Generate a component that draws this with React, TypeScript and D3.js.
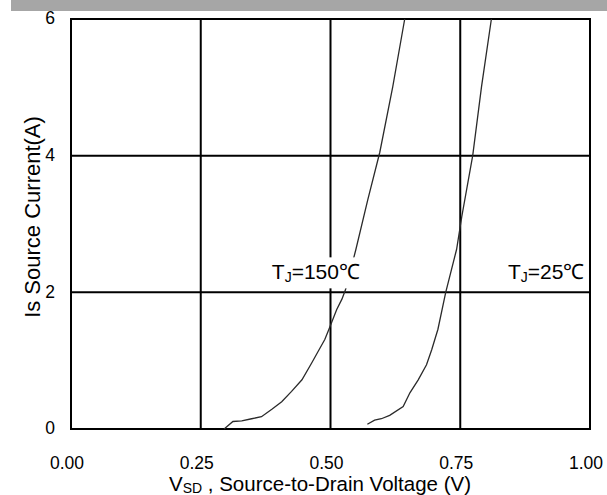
import React, { useEffect, useRef } from 'react';
import * as d3 from 'd3';

const vTicks = [0, 0.25, 0.5, 0.75, 1.0];
const iTicks = [0, 2, 4, 6];

// T_J = 150°C curve (V, A)
const v150 = [0.295, 0.312, 0.329, 0.348, 0.367, 0.387, 0.406, 0.425, 0.445, 0.464, 0.475, 0.489, 0.497, 0.512, 0.522, 0.529, 0.549, 0.572, 0.595, 0.620, 0.643];
const i150 = [0, 0.11, 0.12, 0.15, 0.18, 0.29, 0.40, 0.55, 0.72, 0.97, 1.12, 1.31, 1.46, 1.75, 1.90, 2.04, 2.63, 3.36, 4.05, 5.01, 6.0];

// T_J = 25°C curve
const v25 = [0.571, 0.585, 0.598, 0.614, 0.640, 0.653, 0.669, 0.685, 0.695, 0.707, 0.722, 0.743, 0.753, 0.774, 0.791, 0.810];
const i25 = [0.07, 0.13, 0.15, 0.20, 0.33, 0.53, 0.72, 0.94, 1.16, 1.46, 2.0, 2.63, 3.11, 4.0, 5.01, 6.0];

// temperature labels
const labelTemps = ['150', '25'];
const labelV = [0.387, 0.842];
const labelI = [2.19, 2.19];

const FONT = '"Liberation Sans", Arial, sans-serif';

export default function App() {
  const svgRef = useRef<SVGSVGElement>(null);

  useEffect(() => {
    if (!svgRef.current) return;
    const svg = d3.select(svgRef.current);
    svg.selectAll('*').remove();

    const margin = { top: 19, left: 71 };
    const width = 519;
    const height = 410;

    // grey band across the top
    svg.append('rect')
      .attr('x', 11).attr('y', 0)
      .attr('width', 596).attr('height', 11)
      .attr('fill', '#a6a6a6');

    const g = svg.append('g')
      .attr('transform', `translate(${margin.left},${margin.top})`);

    const x = d3.scaleLinear().domain([0, 1]).range([0, width]);
    const y = d3.scaleLinear().domain([0, 6]).range([height, 0]);

    // grid
    g.selectAll('.gx').data(vTicks).enter().append('line')
      .attr('x1', d => x(d)).attr('x2', d => x(d))
      .attr('y1', 0).attr('y2', height)
      .attr('stroke', '#000').attr('stroke-width', 2);

    g.selectAll('.gy').data(iTicks).enter().append('line')
      .attr('x1', 0).attr('x2', width)
      .attr('y1', d => y(d)).attr('y2', d => y(d))
      .attr('stroke', '#000').attr('stroke-width', 2);

    g.append('rect')
      .attr('width', width).attr('height', height)
      .attr('fill', 'none').attr('stroke', '#000').attr('stroke-width', 2);

    // curves
    const line = d3.line<[number, number]>()
      .x(d => x(d[0]))
      .y(d => y(d[1]));

    const curves = [
      v150.map((v, i) => [v, i150[i]] as [number, number]),
      v25.map((v, i) => [v, i25[i]] as [number, number]),
    ];

    g.selectAll('.curve').data(curves).enter().append('path')
      .attr('d', d => line(d))
      .attr('fill', 'none')
      .attr('stroke', '#2a2a2a')
      .attr('stroke-width', 1.3);

    // labels with white boxes
    labelTemps.forEach((t, i) => {
      const lg = g.append('g');
      const box = lg.append('rect').attr('fill', '#fff');
      const txt = lg.append('text')
        .attr('x', x(labelV[i]))
        .attr('y', y(labelI[i]))
        .attr('font-family', FONT)
        .attr('font-size', 21)
        .attr('fill', '#000');
      txt.append('tspan').text('T');
      txt.append('tspan').attr('font-size', 14).attr('dy', 3).text('J');
      txt.append('tspan').attr('dy', -3).text(`=${t}℃`);
      const bb = (txt.node() as SVGTextElement).getBBox();
      box.attr('x', bb.x - 7).attr('y', bb.y - 3)
        .attr('width', bb.width + 11).attr('height', bb.height + 6);
    });

    // y tick labels
    g.selectAll('.yl').data(iTicks).enter().append('text')
      .attr('x', -16)
      .attr('y', d => y(d))
      .attr('dy', '0.3em')
      .attr('text-anchor', 'end')
      .attr('font-family', FONT)
      .attr('font-size', 17.5)
      .text(d => String(d));

    // x tick labels
    g.selectAll('.xl').data(vTicks).enter().append('text')
      .attr('x', d => x(d) - 4)
      .attr('y', height + 40)
      .attr('text-anchor', 'middle')
      .attr('font-family', FONT)
      .attr('font-size', 17.5)
      .text(d => d3.format('.2f')(d));

    // x title
    const xt = svg.append('text')
      .attr('x', 320)
      .attr('y', 491)
      .attr('text-anchor', 'middle')
      .attr('font-family', FONT)
      .attr('font-size', 20.5);
    xt.append('tspan').text('V');
    xt.append('tspan').attr('font-size', 14).attr('dy', 2).text('SD');
    xt.append('tspan').attr('dy', -2).text(' , Source-to-Drain Voltage (V)');

    // y title
    svg.append('text')
      .attr('transform', 'translate(40,217) rotate(-90)')
      .attr('text-anchor', 'middle')
      .attr('font-family', FONT)
      .attr('font-size', 22)
      .text('Is Source Current(A)');
  }, []);

  return (
    <div style={{ position: 'absolute', left: 0, top: 0 }}>
      <svg ref={svgRef} width={607} height={495} style={{ display: 'block', background: '#fff' }} />
    </div>
  );
}
